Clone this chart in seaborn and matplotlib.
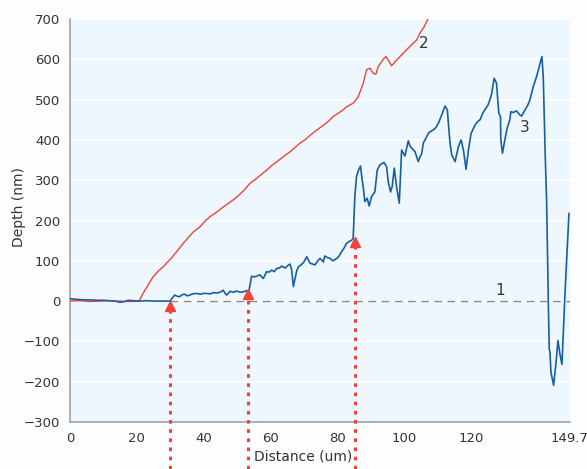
import seaborn as sns
import matplotlib.pyplot as plt
import matplotlib.transforms as mtransforms
import pandas as pd

# Step profile: scan 2 (red) and scan 3 (blue), depth vs. distance
red_x = [0, 3, 6, 9, 12, 15, 18, 20.7, 21.9, 23.4, 24.9, 26.5, 27.8, 28.9, 30.5, 31.9,
         33.9, 35.5, 37, 38.9, 40.5, 42, 44, 45.5, 47, 48.9, 50.5, 52, 53.9, 55.5,
         57, 58.9, 60.5, 62, 64, 66, 67.5, 68.9, 70.5, 72, 74, 76, 77.5, 78.8, 80.5,
         82, 82.8, 84.8, 86.3, 87.8, 88.8, 89.8, 90.8, 91.6, 92.3, 93.8, 94.6, 95.3,
         96.3, 97.8, 99.8, 101.8, 103.8, 104.8, 106, 107.3]
red_y = [0, 1, -1, 0, 1, 0, -1, 0, 19, 40, 60, 75, 84, 94, 108, 122,
         143, 158, 172, 184, 199, 210, 221, 231, 240, 251, 262, 274, 292, 302,
         312, 325, 337, 346, 359, 371, 382, 392, 401, 412, 425, 437, 447, 458, 467,
         476, 482, 491, 507, 540, 574, 578, 565, 563, 582, 600, 607, 598,
         584, 598, 615, 632, 648, 665, 680, 702]

blue_x = [0, 1, 2.5, 4, 6, 8, 10, 12, 13.5, 15, 16.5, 17.5, 19, 21, 23, 25, 27, 29, 30,
          30.7, 31.4, 32.2, 32.9, 33.6, 34.4, 35.2, 35.9, 36.8, 37.9, 39, 40, 40.9, 42,
          42.9, 44, 45, 45.9, 46.4, 46.9, 47.5, 47.9, 49, 49.9, 51, 51.9, 52.9, 53.3,
          53.7, 54.4, 55.2, 55.9, 56.9, 57.9, 58.9, 59.7, 60.4, 61.2, 61.9, 62.7, 63.4,
          64.4, 65.2, 65.9, 66.4, 66.9, 67.4, 67.9, 68.4, 69.2, 69.9, 70.9, 71.9, 72.6,
          73.4, 74.2, 74.9, 75.9, 76.3, 77.1, 77.9, 78.7, 79.9, 80.6, 81.3, 82.1, 82.8,
          83.6, 84.3, 84.8, 85.3, 85.8, 86.4, 87.0, 87.5, 87.8, 88.3, 89.0, 89.6, 90.3,
          91.3, 92.0, 92.8, 94.0, 94.8, 95.3, 96.0, 96.5, 97.1, 97.8, 98.6, 99.3, 100.3,
          101.3, 101.8, 102.5, 103.3, 104.3, 104.8, 105.3, 105.8, 106.3, 107.3, 107.8,
          108.8, 109.5, 110.3, 111.3, 112.3, 113.0, 113.3, 113.8, 114.3, 115.3, 116.3,
          117.1, 117.8, 118.6, 119.3, 120.1, 121.3, 122.0, 122.8, 123.7, 124.5, 125.2,
          126.2, 127.0, 127.7, 128.4, 128.9, 129.0, 129.5, 130.2, 130.9, 131.7, 132.0,
          132.7, 133.7, 134.7, 135.2, 136.2, 137.0, 137.7, 138.7, 139.7, 140.5, 141.3,
          141.7, 142.0, 142.3, 142.7, 143.0, 143.3, 143.5, 143.7, 144.0, 144.8, 145.5,
          146.1, 146.7, 147.3, 148.2, 149.4]
blue_y = [6, 5, 4, 3, 3, 2, 2, 1, 0, -3, -1, 2, 1, 0, 1, 0, 0, 0, 0,
          8, 15, 12, 11, 16, 17, 13, 15, 18, 19, 17, 19, 19, 18,
          21, 20, 22, 27, 20, 15, 20, 24, 22, 25, 22, 23, 26, 20,
          30, 62, 60, 62, 65, 56, 73, 72, 77, 73, 81, 82, 87,
          82, 88, 92, 77, 36, 56, 75, 85, 90, 95, 110, 94, 92,
          90, 100, 106, 97, 112, 108, 106, 100, 106, 112, 122, 132, 143,
          148, 151, 155, 259, 309, 325, 335, 300, 284, 247, 255, 236, 259,
          271, 325, 338, 344, 334, 296, 271, 285, 330, 284, 243, 375, 360,
          398, 385, 378, 371, 346, 358, 365, 392, 400, 416, 420,
          425, 430, 441, 462, 484, 474, 441, 392, 363, 346, 383,
          400, 375, 327, 375, 416, 437, 445, 450, 468, 478, 487,
          512, 553, 541, 466, 458, 400, 367, 400, 429, 450, 470,
          468, 472, 462, 459, 474, 485, 499, 532, 557, 582, 607,
          557, 458, 358, 251, 102, -39, -120, -126, -176, -209, -155,
          -98, -132, -157, 17, 218]

# Marked step edges (distance, depth at arrow tip)
arrow_x = [30.0, 53.3, 85.3]
arrow_tip = [-2, 29, 158]

x_ticks = [0, 20, 40, 60, 80, 100, 120, 149.7]
x_ticklabels = ["0", "20", "40", "60", "80", "100", "120", "149.7"]
y_ticks = [-300, -200, -100, 0, 100, 200, 300, 400, 500, 600, 700]

red = pd.DataFrame({"Distance": red_x, "Depth": red_y})
blue = pd.DataFrame({"Distance": blue_x, "Depth": blue_y})

sns.set_style("white", {"axes.facecolor": "#eef7fd", "figure.facecolor": "#fbfdff"})
plt.rcParams["font.family"] = ["DejaVu Sans"]
text_col = "#333333"
red_col = "#f0433a"
blue_col = "#175ea6"

fig = plt.figure(figsize=(5.87, 4.69), dpi=100)
ax = fig.add_axes([0.119, 0.1002, 0.852, 0.8593])

ax.set_xlim(0, 149.7)
ax.set_ylim(-300, 700)
ax.set_yticks(y_ticks)
ax.set_xticks(x_ticks)
ax.set_xticklabels(x_ticklabels)
ax.yaxis.grid(True, color="white", lw=1.2)
ax.set_axisbelow(True)

# reference line 1
ax.plot([30, 149.7], [0, 0], color="#8a8a8a", lw=1, linestyle=(0, (5.5, 4)), zorder=2)

sns.lineplot(data=red, x="Distance", y="Depth", ax=ax, color=red_col, lw=1.0,
             estimator=None, sort=False, zorder=3)
sns.lineplot(data=blue, x="Distance", y="Depth", ax=ax, color=blue_col, lw=1.2,
             estimator=None, sort=False, zorder=4)

# arrows from below the figure up to the step edges
fig_bottom = ax.transData.inverted().transform(fig.transFigure.transform((0, 0)))[1]
tri_trans = mtransforms.offset_copy(ax.transData, fig=fig, y=-3.2, units="points")
for xa, ya in zip(arrow_x, arrow_tip):
    ax.plot([xa, xa], [fig_bottom, ya - 20], color=red_col, lw=2.2,
            linestyle=(0, (1.2, 1.8)), clip_on=False, zorder=5)
    ax.plot([xa], [ya], marker="^", markersize=7, color=red_col, transform=tri_trans,
            clip_on=False, zorder=6, linestyle="none")

ax.text(128.7, 27, "1", fontsize=11, color=text_col, ha="center", va="center")
ax.text(106.0, 640, "2", fontsize=11, color=text_col, ha="center", va="center")
ax.text(136.2, 430, "3", fontsize=11, color=text_col, ha="center", va="center")

for s in ["top", "right"]:
    ax.spines[s].set_visible(False)
for s in ["left", "bottom"]:
    ax.spines[s].set_color("#9a9a9a")
    ax.spines[s].set_linewidth(1.1)
ax.tick_params(axis="both", direction="out", length=4, width=1.1, color="#9a9a9a",
               labelsize=9.5, labelcolor=text_col, pad=3)

ax.set_xlabel("Distance (um)", fontsize=10, color=text_col)
ax.set_ylabel("Depth (nm)", fontsize=10, color=text_col)
ax.xaxis.set_label_coords(0.466, -0.068)
ax.yaxis.set_label_coords(-0.088, 0.533)

plt.savefig("out.png", dpi=100)
